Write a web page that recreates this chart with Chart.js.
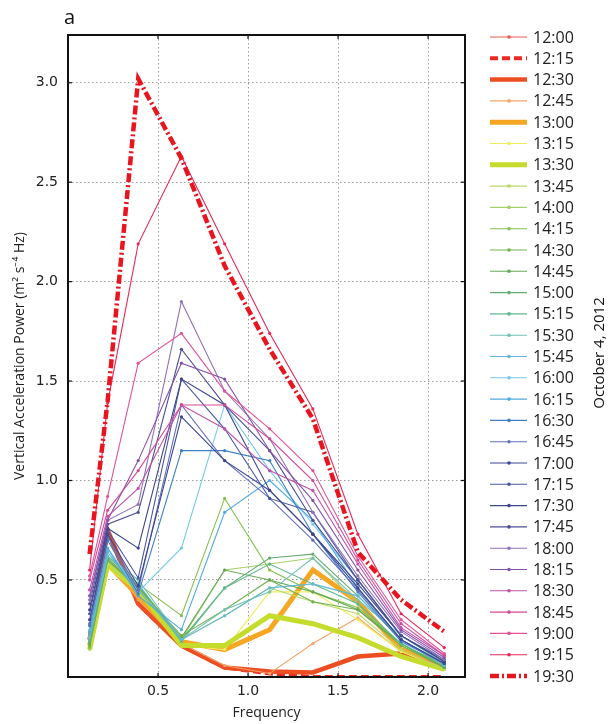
<!DOCTYPE html>
<html>
<head>
<meta charset="utf-8">
<script src="https://cdn.jsdelivr.net/npm/chart.js@4"></script>
<style>
  html, body { margin: 0; padding: 0; background: #fff; }
  #wrap { width: 609px; height: 724px; position: relative; }
</style>
</head>
<body>
<div id="wrap"><canvas id="powerChart"></canvas></div>
<script>
// frequency bins (x) and time labels
const frequency = [0.12, 0.22, 0.39, 0.63, 0.87, 1.12, 1.36, 1.61, 1.85, 2.09];
const timeLabels = ['12:00', '12:15', '12:30', '12:45', '13:00', '13:15', '13:30', '13:45', '14:00', '14:15',
  '14:30', '14:45', '15:00', '15:15', '15:30', '15:45', '16:00', '16:15', '16:30', '16:45',
  '17:00', '17:15', '17:30', '17:45', '18:00', '18:15', '18:30', '18:45', '19:00', '19:15', '19:30'];
const xTicks = [0.5, 1.0, 1.5, 2.0];
const yTicks = [0.5, 1.0, 1.5, 2.0, 2.5, 3.0];

// vertical acceleration power per time (m2 s-4 Hz)
const p1200 = [0.20, 0.74, 0.38, 0.17, 0.06, 0.04, 0.035, 0.11, 0.13, 0.06];
const p1215 = [0.20, 0.74, 0.38, 0.17, 0.06, 0.03, 0.012, 0.012, 0.012, 0.012];
const p1230 = [0.20, 0.75, 0.38, 0.17, 0.06, 0.04, 0.035, 0.115, 0.13, 0.06];
const p1245 = [0.18, 0.60, 0.40, 0.18, 0.07, 0.03, 0.18, 0.31, 0.14, 0.06];
const p1300 = [0.17, 0.58, 0.42, 0.19, 0.15, 0.25, 0.55, 0.39, 0.15, 0.08];
const p1315 = [0.16, 0.56, 0.44, 0.17, 0.15, 0.44, 0.44, 0.30, 0.14, 0.05];
const p1330 = [0.15, 0.58, 0.45, 0.17, 0.17, 0.32, 0.28, 0.21, 0.115, 0.05];
const p1345 = [0.15, 0.58, 0.45, 0.20, 0.32, 0.46, 0.39, 0.33, 0.15, 0.05];
const p1400 = [0.16, 0.60, 0.45, 0.20, 0.55, 0.58, 0.61, 0.38, 0.17, 0.06];
const p1415 = [0.16, 0.62, 0.48, 0.32, 0.91, 0.55, 0.44, 0.36, 0.18, 0.06];
const p1430 = [0.17, 0.60, 0.46, 0.22, 0.35, 0.50, 0.39, 0.35, 0.17, 0.06];
const p1445 = [0.18, 0.60, 0.47, 0.21, 0.55, 0.50, 0.44, 0.35, 0.18, 0.06];
const p1500 = [0.19, 0.61, 0.47, 0.20, 0.46, 0.61, 0.63, 0.42, 0.20, 0.07];
const p1515 = [0.20, 0.62, 0.48, 0.19, 0.46, 0.58, 0.48, 0.38, 0.18, 0.07];
const p1530 = [0.21, 0.62, 0.50, 0.20, 0.35, 0.44, 0.61, 0.40, 0.22, 0.08];
const p1545 = [0.22, 0.64, 0.45, 0.20, 0.32, 0.46, 0.48, 0.42, 0.20, 0.07];
const p1600 = [0.25, 0.66, 0.44, 0.66, 1.38, 1.05, 0.78, 0.50, 0.22, 0.09];
const p1615 = [0.24, 0.66, 0.42, 0.25, 0.84, 1.00, 0.80, 0.46, 0.20, 0.08];
const p1630 = [0.27, 0.70, 0.43, 1.15, 1.15, 1.10, 0.73, 0.44, 0.19, 0.08];
const p1645 = [0.28, 0.72, 0.45, 1.38, 1.10, 0.91, 0.70, 0.45, 0.20, 0.08];
const p1700 = [0.30, 0.73, 0.47, 1.32, 1.10, 0.95, 0.73, 0.46, 0.20, 0.08];
const p1715 = [0.33, 0.75, 0.51, 1.51, 1.26, 0.91, 0.84, 0.50, 0.22, 0.09];
const p1730 = [0.35, 0.76, 0.66, 1.51, 1.38, 0.95, 0.73, 0.48, 0.22, 0.09];
const p1745 = [0.38, 0.78, 0.84, 1.66, 1.38, 1.15, 0.80, 0.50, 0.22, 0.10];
const p1800 = [0.40, 0.80, 0.88, 1.90, 1.45, 1.21, 0.84, 0.52, 0.24, 0.10];
const p1815 = [0.42, 0.80, 1.10, 1.59, 1.51, 1.15, 0.90, 0.55, 0.25, 0.11];
const p1830 = [0.45, 0.82, 0.96, 1.38, 1.26, 1.05, 0.95, 0.58, 0.26, 0.12];
const p1845 = [0.50, 0.85, 1.05, 1.38, 1.38, 1.21, 1.00, 0.60, 0.28, 0.12];
const p1900 = [0.52, 0.92, 1.59, 1.74, 1.45, 1.26, 1.05, 0.62, 0.30, 0.13];
const p1915 = [0.55, 1.39, 2.19, 2.63, 2.19, 1.74, 1.36, 0.73, 0.33, 0.16];
const p1930 = [0.63, 1.40, 3.02, 2.62, 2.08, 1.66, 1.31, 0.64, 0.40, 0.24];

const powers = [p1200, p1215, p1230, p1245, p1300, p1315, p1330, p1345, p1400, p1415,
  p1430, p1445, p1500, p1515, p1530, p1545, p1600, p1615, p1630, p1645,
  p1700, p1715, p1730, p1745, p1800, p1815, p1830, p1845, p1900, p1915, p1930];

const colors = ['#ea5a52', '#ec2a22', '#ec4e22', '#f4a468', '#f5a623', '#eeee5c', '#c6dc2c', '#bcd968',
  '#a6d06a', '#86bf4c', '#72b24e', '#64aa55', '#68ab72', '#5fb78e', '#72c2b8', '#62b9d2',
  '#74c9ea', '#4fa9e0', '#3f7fc6', '#6470b8', '#3c4696', '#4a58a2', '#3e468e', '#4e4e98',
  '#9072b8', '#8452aa', '#c052aa', '#d24a9a', '#e25496', '#e8285a', '#e8141e'];

// special line styles; everything else is a thin line with small dots
const styles = {
  '12:15': { borderWidth: 4, borderDash: [8, 4], pointRadius: 0 },
  '12:30': { borderWidth: 4.5, pointRadius: 0 },
  '13:00': { borderWidth: 5, pointRadius: 0 },
  '13:30': { borderWidth: 5, pointRadius: 0 },
  '19:30': { borderWidth: 4.5, borderDash: [9, 3, 2, 3], pointRadius: 0 }
};

const datasets = timeLabels.map((t, i) => {
  const s = styles[t] || { borderWidth: 1.1, pointRadius: 1.6 };
  return {
    label: t,
    data: frequency.map((f, j) => ({ x: f, y: powers[i][j] })),
    borderColor: colors[i],
    backgroundColor: colors[i],
    borderWidth: s.borderWidth,
    borderDash: s.borderDash || [],
    pointRadius: s.pointRadius,
    pointBorderWidth: 0,
    pointHoverRadius: 0,
    tension: 0,
    order: timeLabels.length - i
  };
});

const frame = {
  id: 'frame',
  afterDraw(chart) {
    const { ctx, chartArea: a } = chart;
    ctx.save();
    ctx.strokeStyle = '#111';
    ctx.lineWidth = 2;
    ctx.strokeRect(a.left, a.top, a.right - a.left, a.bottom - a.top);
    // short inner tick marks on the frame
    ctx.lineWidth = 1.2;
    const ys = chart.scales.y, xs = chart.scales.x;
    yTicks.forEach(v => {
      const y = ys.getPixelForValue(v);
      ctx.beginPath(); ctx.moveTo(a.right - 4, y); ctx.lineTo(a.right, y); ctx.stroke();
      ctx.beginPath(); ctx.moveTo(a.left, y); ctx.lineTo(a.left + 4, y); ctx.stroke();
    });
    xTicks.forEach(v => {
      const x = xs.getPixelForValue(v);
      ctx.beginPath(); ctx.moveTo(x, a.top); ctx.lineTo(x, a.top + 4); ctx.stroke();
      ctx.beginPath(); ctx.moveTo(x, a.bottom - 4); ctx.lineTo(x, a.bottom); ctx.stroke();
    });

    // panel letter and date
    ctx.fillStyle = '#111';
    ctx.font = '20px "Open Sans"';
    ctx.textBaseline = 'alphabetic';
    ctx.textAlign = 'left';
    ctx.fillText('a', 64, 24);
    ctx.save();
    ctx.translate(600, 353);
    ctx.rotate(-Math.PI / 2);
    ctx.font = '15px "Open Sans"';
    ctx.textAlign = 'center';
    ctx.textBaseline = 'middle';
    ctx.fillText('October 4, 2012', 0, 0);
    ctx.restore();

    // legend
    ctx.font = '16px "Open Sans"';
    ctx.textAlign = 'left';
    ctx.textBaseline = 'middle';
    chart.data.datasets.forEach((ds, i) => {
      const y = 37 + i * 21.3;
      ctx.save();
      ctx.strokeStyle = ds.borderColor;
      ctx.lineWidth = ds.borderWidth;
      ctx.setLineDash(ds.borderDash || []);
      ctx.beginPath(); ctx.moveTo(490, y); ctx.lineTo(527, y); ctx.stroke();
      if (ds.pointRadius > 0) {
        ctx.fillStyle = ds.borderColor;
        ctx.beginPath(); ctx.arc(509, y, 1.8, 0, Math.PI * 2); ctx.fill();
      }
      ctx.restore();
      ctx.fillStyle = '#222';
      ctx.fillText(ds.label, 533, y + 1);
    });
    ctx.restore();
  }
};

new Chart(document.getElementById('powerChart'), {
  type: 'line',
  data: { datasets },
  options: {
    responsive: true,
    maintainAspectRatio: false,
    animation: false,
    events: [],
    layout: { padding: { left: 0, right: 144, top: 35, bottom: 0 } },
    plugins: { legend: { display: false }, tooltip: { enabled: false } },
    scales: {
      x: {
        type: 'linear',
        min: 0,
        max: 2.205,
        afterBuildTicks: s => { s.ticks = xTicks.map(v => ({ value: v })); },
        afterFit: s => { s.height = 47; },
        grid: { color: '#9a9a9a', lineWidth: 1, drawTicks: false },
        border: { display: false, dash: [1.5, 2.5] },
        ticks: { padding: 6, color: '#222', font: { family: 'DejaVu Sans', size: 14 }, callback: v => v.toFixed(1), maxRotation: 0 },
        title: { display: true, text: 'Frequency', color: '#222', font: { family: 'Open Sans', size: 14 }, padding: { top: 0, bottom: 3 } }
      },
      y: {
        min: 0.012,
        max: 3.24,
        afterBuildTicks: s => { s.ticks = yTicks.map(v => ({ value: v })); },
        afterFit: s => { s.width = 68; },
        grid: { color: '#9a9a9a', lineWidth: 1, drawTicks: false },
        border: { display: false, dash: [1.5, 2.5] },
        ticks: { padding: 10, color: '#222', font: { family: 'DejaVu Sans', size: 14 }, callback: v => v.toFixed(1) },
        title: { display: true, text: 'Vertical Acceleration Power (m² s⁻⁴ Hz)', color: '#222', font: { family: 'Open Sans', size: 14 }, padding: { top: 12, bottom: 0 } }
      }
    }
  },
  plugins: [frame]
});
</script>
</body>
</html>
